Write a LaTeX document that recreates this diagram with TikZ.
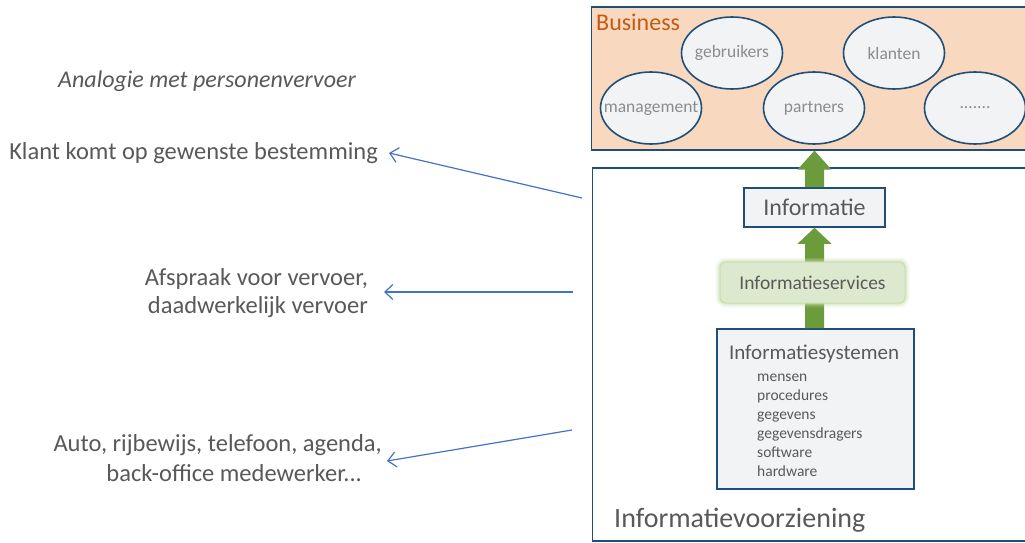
\documentclass[tikz,border=0pt]{standalone}
\usepackage{fontspec}
\setmainfont{Carlito}
\usetikzlibrary{shapes.geometric,calc,arrows.meta}
\definecolor{bord}{HTML}{1F4E79}
\definecolor{peach}{HTML}{F8D9BF}
\definecolor{ellfill}{HTML}{F2F3F5}
\definecolor{txtgray}{HTML}{595959}
\definecolor{lightgray}{HTML}{8C8C8C}
\definecolor{bizbrown}{HTML}{C55A11}
\definecolor{garr}{HTML}{6B9B3A}
\definecolor{svcfill}{HTML}{DDE9CF}
\definecolor{svcglow}{HTML}{C9DEAE}
\definecolor{linkblue}{HTML}{4472C4}
\tikzset{
  frame/.style={draw=bord,line width=1.6pt},
  actor/.style={ellipse,draw=bord,line width=1.6pt,fill=ellfill,minimum width=101pt,minimum height=72pt,inner sep=0pt,text=lightgray,font=\fontsize{17.5}{20}\selectfont},
  garrow/.style={fill=garr},
  lefttext/.style={text=txtgray,font=\fontsize{24.5}{28}\selectfont,inner sep=0pt,anchor=east},
  link/.style={draw=linkblue,line width=1.2pt,-{Straight Barb[length=8pt,width=15pt,line width=1.2pt]}}
}
\begin{document}
\begin{tikzpicture}[x=1pt,y=-1pt]
\useasboundingbox[fill=white] (0,0) rectangle (1025,543);
% Business
\node[frame,fill=peach,minimum width=434pt,minimum height=143pt,anchor=north west,inner sep=0pt] (biz) at (590.5,6) {};
\node[text=bizbrown,font=\fontsize{24}{28}\selectfont,anchor=west,inner sep=0pt] (biztitle) at (596,22) {Business};
\node[actor] (gebr) at (732,53) {\makebox[0pt]{gebruikers}};
\node[actor] (klant) at (894,53) {\makebox[0pt]{klanten}};
\node[actor] (mgmt) at (651,108) {\makebox[0pt]{management}};
\node[actor] (partn) at (814,108) {\makebox[0pt]{partners}};
\node[actor] (etc) at (975,108) {\makebox[0pt]{.......}};
% Informatievoorziening
\node[frame,minimum width=433pt,minimum height=373pt,anchor=north west,inner sep=0pt] (iv) at (591.5,167) {};
\node[text=txtgray,font=\fontsize{28}{32}\selectfont,anchor=west,inner sep=0pt] (ivtitle) at (614,520) {Informatievoorziening};
% Informatie
\node[frame,fill=ellfill,minimum width=141pt,minimum height=39pt,inner sep=0pt,text=txtgray,font=\fontsize{24}{28}\selectfont] (info) at (814.5,207.5) {Informatie};
% Informatiesystemen
\node[frame,fill=ellfill,minimum width=197pt,minimum height=160pt,anchor=north west,inner sep=0pt] (sys) at (716,328) {};
\node[text=txtgray,font=\fontsize{21}{24}\selectfont,inner sep=0pt] (systitle) at (814,354) {Informatiesystemen};
\node[text=txtgray,font=\fontsize{15.5}{19}\selectfont,align=left,anchor=north west,inner sep=0pt] (sysitems) at (757,374) {mensen\\procedures\\gegevens\\gegevensdragers\\software\\hardware};
% green arrows
\path (info.north) coordinate (a1s) (a1s |- biz.south) coordinate (a1e);
\fill[garrow] ($(a1s)+(-9.5,0)$) -- ($(a1e)+(-9.5,19)$) -- ($(a1e)+(-17,19)$) -- (a1e) -- ($(a1e)+(17,19)$) -- ($(a1e)+(9.5,19)$) -- ($(a1s)+(9.5,0)$) -- cycle;
\path (info.south) coordinate (a2e) (a2e |- sys.north) coordinate (a2s);
\fill[garrow] ($(a2s)+(-9.5,0)$) -- ($(a2e)+(-9.5,16)$) -- ($(a2e)+(-17,16)$) -- (a2e) -- ($(a2e)+(17,16)$) -- ($(a2e)+(9.5,16)$) -- ($(a2s)+(9.5,0)$) -- cycle;
% Informatieservices with glow
\foreach \w/\o in {9/0.15,6/0.25,3/0.4}{
  \draw[svcglow,line width=\w pt,opacity=\o,rounded corners=6pt] (720,262) rectangle (905,303);
}
\node[fill=svcfill,draw=svcglow,line width=1pt,rounded corners=6pt,minimum width=185pt,minimum height=41pt,inner sep=0pt,text=txtgray,font=\fontsize{19.5}{22}\selectfont] (svc) at (812.5,282.5) {Informatieservices};
% left texts
\node[text=txtgray,font=\fontsize{24}{28}\selectfont\itshape,inner sep=0pt] (analog) at (207,81) {Analogie met personenvervoer};
\node[lefttext] (klt) at (378,153) {Klant komt op gewenste bestemming};
\node[lefttext] (afs1) at (368,279) {Afspraak voor vervoer,};
\node[lefttext] (afs2) at (368,307) {daadwerkelijk vervoer};
\node[lefttext] (auto1) at (382,445) {Auto, rijbewijs, telefoon, agenda,};
\node[lefttext] (auto2) at (362,473) {back-office medewerker...};
% blue links
\coordinate (l1) at (582,198);
\coordinate (l2) at (573,292);
\coordinate (l3) at (572,430);
\draw[link] (l1) -- ($(klt.east)+(11,0)$);
\draw[link] (l2) -- ($(afs1.east)!0.5!(afs2.east)+(16,-1)$);
\draw[link] (l3) -- ($(auto1.east)!0.5!(auto2.east)+(15,2)$);
\end{tikzpicture}
\end{document}
